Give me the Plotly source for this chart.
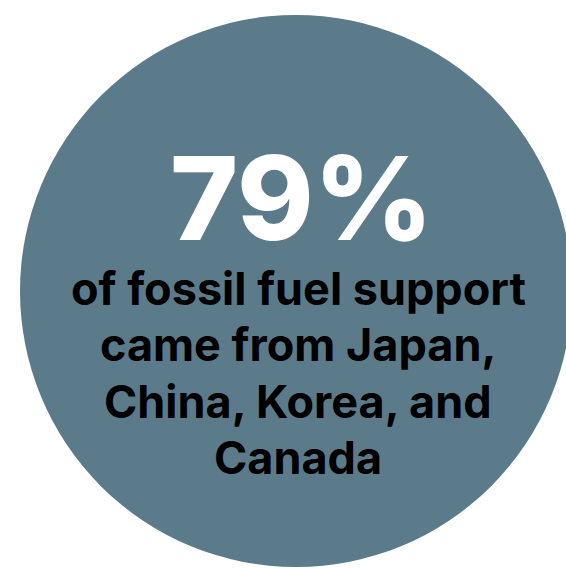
import plotly.graph_objects as go

# ---- content ----
headline = "79%"
subtitle_lines = ["of fossil fuel support", "came from Japan,", "China, Korea, and", "Canada"]

# ---- layout constants (pixel space) ----
W, H = 566, 568
CX, CY, R = 296, 291, 276
TEXT_X = 298
HEAD_X = 301
HEAD_Y = 198
SUB_Y0 = 288
SUB_STEP = 56.5
CIRCLE_COLOR = "#5C7B8A"
FONT = "Inter"

fig = go.Figure()
fig.add_shape(type="circle", xref="x", yref="y",
              x0=CX - R, x1=CX + R, y0=CY - R, y1=CY + R,
              fillcolor=CIRCLE_COLOR, line_width=0, layer="below")

fig.add_annotation(x=HEAD_X, y=HEAD_Y, xref="x", yref="y", text=headline,
                   showarrow=False, xanchor="center", yanchor="middle",
                   font=dict(family=FONT, size=116, color="white", weight=800))

for i, line in enumerate(subtitle_lines):
    fig.add_annotation(x=TEXT_X, y=SUB_Y0 + i * SUB_STEP, xref="x", yref="y", text=line,
                       showarrow=False, xanchor="center", yanchor="middle",
                       font=dict(family=FONT, size=45, color="black", weight=700))

fig.update_xaxes(range=[0, W], visible=False, fixedrange=True)
fig.update_yaxes(range=[H, 0], visible=False, fixedrange=True)
fig.update_layout(width=W, height=H, margin=dict(l=0, r=0, t=0, b=0),
                  paper_bgcolor="white", plot_bgcolor="white", showlegend=False)

fig.write_html("out.html", config={"displayModeBar": False},
               post_script="document.body.style.margin='0';document.body.style.overflow='hidden';")
